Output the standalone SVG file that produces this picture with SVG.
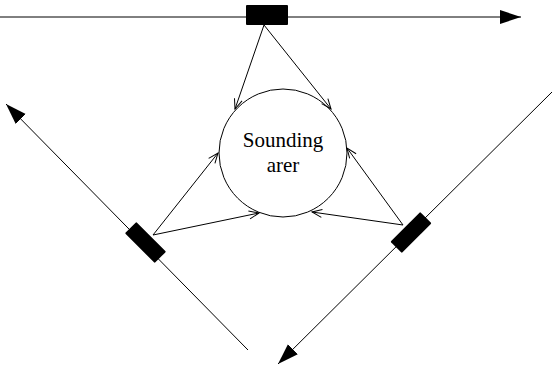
<svg xmlns="http://www.w3.org/2000/svg" width="552" height="368" viewBox="0 0 552 368">
<style>
.ln{stroke:#000;stroke-width:1;fill:none}
.sensor{fill:#000}
.lbl{font-family:"Liberation Serif","Times New Roman",serif;font-size:21px;fill:#000;text-anchor:middle}
</style>
<defs>
<marker id="big" markerUnits="userSpaceOnUse" markerWidth="24" markerHeight="16" viewBox="-21 -8 24 16" refX="0" refY="0" orient="auto">
<path d="M-21,-7 L0,0 L-21,7 Z" fill="#000"/>
</marker>
<marker id="open" markerUnits="userSpaceOnUse" markerWidth="14" markerHeight="12" viewBox="-11 -6 14 12" refX="0" refY="0" orient="auto">
<path d="M-10,-4 L0,0 L-10,4" fill="none" stroke="#000" stroke-width="1"/>
</marker>
</defs>
<g id="connectors">
<line class="ln" x1="0" y1="17" x2="521" y2="17" marker-end="url(#big)"/>
<line class="ln" x1="248" y1="350" x2="6" y2="104" marker-end="url(#big)"/>
<line class="ln" x1="553" y1="91" x2="278" y2="364" marker-end="url(#big)"/>
<line class="ln" x1="264" y1="25" x2="235" y2="109" marker-end="url(#open)"/>
<line class="ln" x1="264" y1="25" x2="331" y2="109" marker-end="url(#open)"/>
<line class="ln" x1="153" y1="235" x2="218" y2="153" marker-end="url(#open)"/>
<line class="ln" x1="153" y1="235" x2="259" y2="213" marker-end="url(#open)"/>
<line class="ln" x1="403" y1="225" x2="347" y2="148" marker-end="url(#open)"/>
<line class="ln" x1="403" y1="225" x2="312" y2="212" marker-end="url(#open)"/>
</g>
<g id="area">
<circle class="ln" cx="283" cy="153" r="64"/>
<text class="lbl" x="283" y="147">Sounding</text>
<text class="lbl" x="283" y="172">arer</text>
</g>
<g id="sensor-top">
<rect class="sensor" x="246" y="5" width="42" height="20" rx="1"/>
</g>
<g id="sensor-left">
<rect class="sensor" x="-21" y="-8" width="42" height="16" rx="1" transform="translate(145.5,242.5) rotate(45)"/>
</g>
<g id="sensor-right">
<rect class="sensor" x="-21" y="-8" width="42" height="16" rx="1" transform="translate(411,232.5) rotate(-45)"/>
</g>
</svg>
